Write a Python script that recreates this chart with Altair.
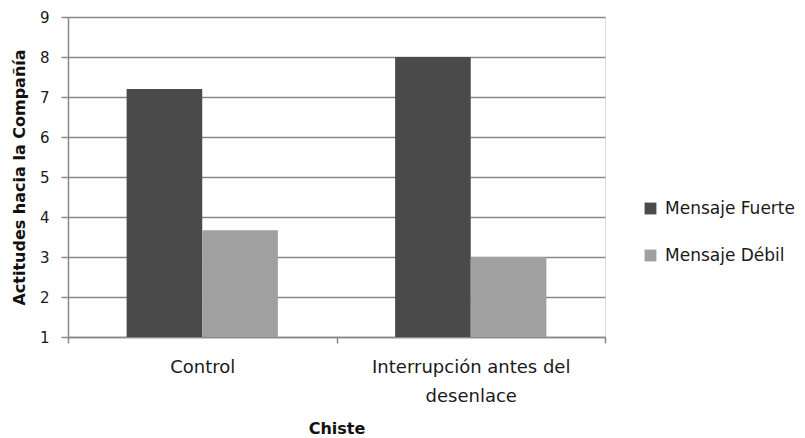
import altair as alt
import pandas as pd

categories = ["Control", "Interrupción antes del desenlace"]
series = ["Mensaje Fuerte", "Mensaje Débil"]
fuerte = [7.2, 8.0]
debil = [3.67, 3.0]
colors = ["#4a4a4a", "#a0a0a0"]
y_ticks = [1, 2, 3, 4, 5, 6, 7, 8, 9]

rows = []
for i, c in enumerate(categories):
    rows.append({"chiste": c, "mensaje": series[0], "valor": fuerte[i]})
    rows.append({"chiste": c, "mensaje": series[1], "valor": debil[i]})
df = pd.DataFrame(rows)

FONT = "DejaVu Sans"
label_expr = ("datum.label == 'Interrupción antes del desenlace' ? "
              "['Interrupción antes del', 'desenlace'] : datum.label")

chart = alt.Chart(df).mark_bar().encode(
    x=alt.X("chiste:N", sort=categories,
            scale=alt.Scale(paddingInner=0, paddingOuter=0),
            axis=alt.Axis(title="Chiste", labelAngle=0, tickBand="extent",
                          labelExpr=label_expr, labelOverlap=False, labelLimit=400,
                          labelFontSize=18, labelFont=FONT, labelBaseline="top",
                          labelColor="#1a1a1a", labelLineHeight=29, labelPadding=15,
                          titleFont=FONT, titleFontSize=16, titleFontWeight="bold",
                          titleColor="#111", titlePadding=15,
                          domainColor="#888", domainWidth=1.5, tickColor="#888",
                          tickWidth=1.5, tickSize=6, grid=False)),
    xOffset=alt.XOffset("mensaje:N", sort=series,
                        scale=alt.Scale(paddingOuter=0.775, paddingInner=0)),
    y=alt.Y("valor:Q", scale=alt.Scale(domain=[1, 9], nice=False, zero=False),
            axis=alt.Axis(title="Actitudes hacia la Compañía",
                          values=y_ticks,
                          labelFontSize=15, labelFont=FONT, labelColor="#1a1a1a",
                          labelPadding=12, titleFont=FONT, titleFontSize=16,
                          titleFontWeight="bold", titleColor="#111", titlePadding=12,
                          domainColor="#888", domainWidth=1.5, tickColor="#888",
                          tickWidth=1.5, tickSize=7, gridColor="#888", gridWidth=1.5)),
    y2=alt.Y2(datum=1),
    color=alt.Color("mensaje:N", sort=series,
                    scale=alt.Scale(domain=series, range=colors),
                    legend=alt.Legend(title=None, orient="none", legendX=574, legendY=183,
                                      symbolType="square", symbolSize=140,
                                      symbolStrokeWidth=0, labelFont=FONT,
                                      labelFontSize=17, labelColor="#1a1a1a",
                                      labelLimit=300, rowPadding=29, labelOffset=6)),
).properties(
    width=537, height=320,
    autosize=alt.AutoSizeParams(type="none"),
    padding={"left": 60, "top": 9, "right": 192, "bottom": 100},
).configure_view(stroke=None).configure(background="white")

chart.save("out.html", embed_options={"renderer": "svg", "actions": False})
